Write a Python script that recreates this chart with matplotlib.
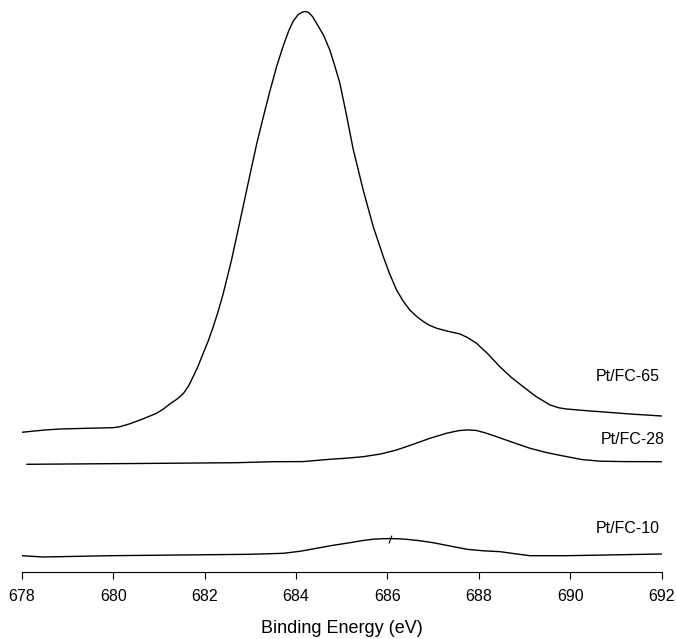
import matplotlib
matplotlib.use("Agg")
import matplotlib.pyplot as plt

plt.rcParams["font.family"] = ["Liberation Sans", "DejaVu Sans"]

# Binding energy (eV) and intensity (a.u., stacked with offsets) for each sample
be_fc65 = [678.00, 678.50, 678.84, 679.50, 680.00, 680.15, 680.35, 680.59, 680.95,
           681.10, 681.24, 681.40, 681.54, 681.65, 681.75, 681.86, 681.97, 682.08,
           682.19, 682.30, 682.41, 682.59, 682.78, 683.00, 683.14, 683.29, 683.43,
           683.58, 683.72, 683.84, 683.94, 684.05, 684.13, 684.20, 684.27, 684.36,
           684.45, 684.60, 684.74, 684.85, 684.96, 685.10, 685.25, 685.47, 685.69,
           685.91, 686.05, 686.20, 686.35, 686.49, 686.64, 686.79, 686.93, 687.08,
           687.30, 687.59, 687.75, 687.95, 688.20, 688.46, 688.70, 688.97, 689.25,
           689.56, 689.75, 689.92, 690.30, 690.65, 691.31, 692.00]
int_fc65 = [139.7, 142.0, 143.0, 143.8, 144.3, 145.3, 148.0, 152.0, 158.7,
            163.0, 168.0, 173.0, 178.7, 186.0, 195.3, 206.0, 218.7, 231.0,
            245.3, 261.0, 278.7, 312.0, 352.0, 398.7, 428.0, 456.0, 481.0,
            506.0, 526.0, 541.0, 551.0, 557.5, 559.7, 560.5, 559.7, 555.5,
            548.7, 537.0, 522.0, 506.0, 488.7, 458.0, 423.0, 382.0, 345.3,
            315.3, 298.0, 282.0, 270.5, 262.0, 255.5, 250.3, 246.5, 243.7,
            241.0, 238.0, 234.5, 228.7, 218.0, 205.3, 195.0, 185.3, 175.5,
            167.0, 164.2, 163.0, 161.5, 160.3, 158.0, 156.0]

be_fc28 = [678.11, 681.09, 682.70, 683.50, 684.15, 684.74, 685.10, 685.47, 685.85,
           686.20, 686.55, 686.93, 687.30, 687.55, 687.75, 687.95, 688.15, 688.39,
           688.75, 689.12, 689.50, 689.85, 690.25, 690.65, 691.20, 692.00]
int_fc28 = [107.7, 108.7, 109.3, 110.3, 110.4, 112.7, 113.8, 115.3, 118.0,
            122.0, 127.5, 133.7, 138.8, 141.3, 142.1, 141.5, 139.0, 135.3,
            129.5, 123.7, 119.2, 116.0, 112.5, 110.8, 110.4, 110.3]

be_fc10 = [678.00, 678.47, 679.93, 682.99, 683.72, 684.10, 684.45, 684.80, 685.18,
           685.45, 685.69, 685.90, 686.06, 686.25, 686.42, 686.70, 687.00, 687.37,
           687.74, 688.10, 688.47, 688.80, 689.12, 689.92, 692.00]
int_fc10 = [16.3, 15.0, 16.3, 17.7, 18.7, 20.8, 23.7, 26.6, 29.3,
            31.4, 32.8, 33.3, 33.4, 33.2, 32.7, 31.3, 29.3, 26.0,
            22.7, 21.2, 20.3, 18.2, 16.3, 16.3, 18.0]

labels = ["Pt/FC-65", "Pt/FC-28", "Pt/FC-10"]
label_x = [691.96, 692.07, 691.96]
label_y = [195.3, 132.0, 43.7]

x_ticks = [678, 680, 682, 684, 686, 688, 690, 692]

fig = plt.figure(figsize=(6.76, 6.39), dpi=100)
ax = fig.add_axes([21.7 / 676, 67 / 639, 640 / 676, 572 / 639])

for be, inten in [(be_fc65, int_fc65), (be_fc28, int_fc28), (be_fc10, int_fc10)]:
    ax.plot(be, inten, color="black", lw=1.0, solid_joinstyle="round",
            solid_capstyle="round")

# small mark on the Pt/FC-10 trace
ax.plot([686.06], [33.4], marker=(2, 0, -20), markersize=6, color="black", mew=0.8)

for lab, lx, ly in zip(labels, label_x, label_y):
    ax.text(lx, ly, lab, ha="right", va="center", fontsize=11.5)

ax.set_xlim(678, 692)
ax.set_ylim(0, 572)
ax.set_xticks(x_ticks)
ax.set_xticklabels([str(t) for t in x_ticks], fontsize=11.5)
ax.tick_params(axis="x", direction="out", length=5, width=0.8, pad=7)
ax.set_yticks([])
for side in ["left", "right", "top"]:
    ax.spines[side].set_visible(False)
ax.spines["bottom"].set_linewidth(0.8)
ax.set_xlabel("Binding Energy (eV)", fontsize=13, labelpad=12)
ax.patch.set_alpha(0)

fig.savefig("out.png", dpi=100)
